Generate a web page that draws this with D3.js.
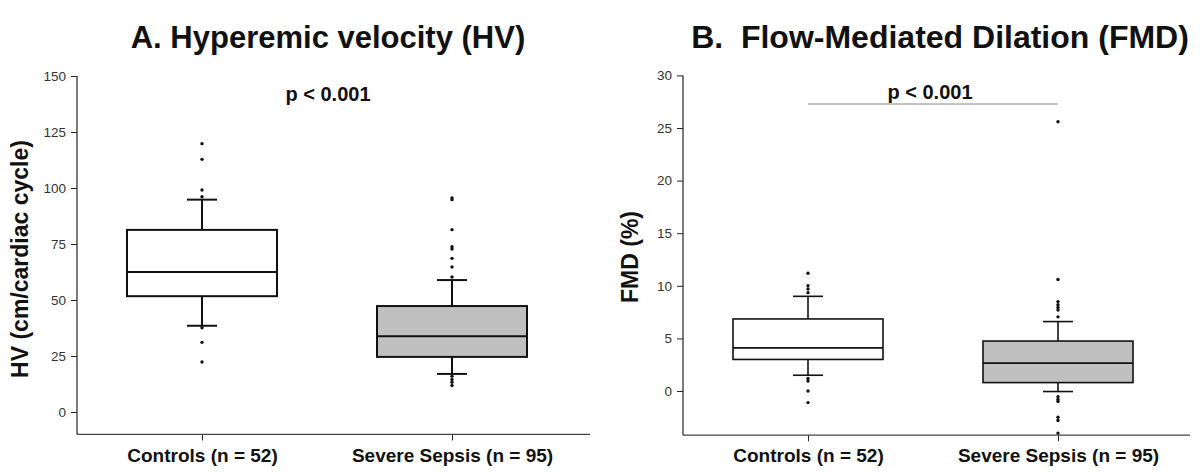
<!DOCTYPE html>
<html>
<head>
<meta charset="utf-8">
<script src="https://cdn.jsdelivr.net/npm/d3@7/dist/d3.min.js"></script>
<style>
  html, body { margin: 0; padding: 0; background: #fff; }
  svg { display: block; font-family: Arial, "Liberation Sans", sans-serif; }
</style>
</head>
<body>
<svg id="chart" width="1200" height="472"></svg>
<script>
// ---------- DATA ----------
const categories = ["Controls (n = 52)", "Severe Sepsis (n = 95)"];

// Panel A: Hyperemic velocity (cm/cardiac cycle)
const hvWhiskerLow  = [38.5, 17.0];
const hvQ1          = [51.7, 24.6];
const hvMedian      = [62.5, 33.8];
const hvQ3          = [81.3, 47.3];
const hvWhiskerHigh = [94.8, 58.9];
const hvOutliersControls = [119.8, 112.8, 99.1, 96.1, 37.6, 31.1, 22.3];
const hvOutliersSepsis   = [95.6, 94.8, 81.4, 73.8, 72.8, 68.6, 64.7, 60.3, 16.0, 14.5, 13.3, 11.8];
const hvTicks = [0, 25, 50, 75, 100, 125, 150];

// Panel B: Flow-mediated dilation (%)
const fmdWhiskerLow  = [1.5, -0.05];
const fmdQ1          = [3.0, 0.8];
const fmdMedian      = [4.1, 2.65];
const fmdQ3          = [6.85, 4.75];
const fmdWhiskerHigh = [9.0, 6.6];
const fmdOutliersControls = [11.2, 10.0, 9.7, 9.35, 1.2, 0.95, 0.0, -1.1];
const fmdOutliersSepsis   = [25.6, 10.6, 8.5, 8.2, 7.95, 7.7, 7.05, -0.55, -0.8, -1.0, -2.5, -2.8, -4.0];
const fmdTicks = [0, 5, 10, 15, 20, 25, 30];

const boxFills = ["#ffffff", "#c0c0c0"];
const pText = "p < 0.001";

// ---------- DRAW ----------
const svg = d3.select("#chart");

function buildStats(lo, q1, med, q3, hi, outs) {
  return categories.map((c, i) => ({
    cat: c, lo: lo[i], q1: q1[i], med: med[i], q3: q3[i], hi: hi[i], outliers: outs[i], fill: boxFills[i]
  }));
}

function panel(cfg) {
  const g = svg.append("g");
  const y = d3.scaleLinear().domain(cfg.yDomain).range([cfg.bottom, cfg.top]);
  const x = d3.scalePoint().domain(categories).range(cfg.xCenters);
  const step = x.step();
  const bw = step * 0.6;
  const cw = step * 0.088;
  const sw = cfg.strokeWidth;

  // Y axis
  const yAxis = d3.axisLeft(y).tickValues(cfg.ticks).tickSize(6).tickPadding(5).tickSizeOuter(0);
  const ya = g.append("g").attr("transform", `translate(${cfg.left},0)`).call(yAxis);
  ya.select(".domain").remove();
  ya.selectAll(".tick line").attr("stroke", "#222");
  ya.selectAll(".tick text").attr("font-size", 13.5).attr("fill", "#333")
    .attr("font-family", "Arial, 'Liberation Sans', sans-serif");
  g.append("line").attr("x1", cfg.left).attr("x2", cfg.left)
    .attr("y1", y(cfg.ticks[cfg.ticks.length - 1])).attr("y2", cfg.bottom)
    .attr("stroke", "#222").attr("stroke-width", 1.2);

  // X axis
  const xAxis = d3.axisBottom(x).tickSize(6).tickPadding(6).tickSizeOuter(0);
  const xa = g.append("g").attr("transform", `translate(0,${cfg.bottom})`).call(xAxis);
  xa.select(".domain").remove();
  xa.selectAll(".tick line").attr("stroke", "#222");
  xa.selectAll(".tick text").attr("font-size", 19).attr("font-weight", "bold").attr("fill", "#111")
    .attr("dy", "0.8em")
    .attr("font-family", "Arial, 'Liberation Sans', sans-serif");
  g.append("line").attr("x1", cfg.left).attr("x2", cfg.right)
    .attr("y1", cfg.bottom).attr("y2", cfg.bottom)
    .attr("stroke", "#444").attr("stroke-width", 1.2);

  // Boxes
  const stats = cfg.stats;
  const bg = g.selectAll("g.box").data(stats).join("g").attr("class", "box");
  // whiskers
  bg.append("line").attr("x1", d => x(d.cat)).attr("x2", d => x(d.cat))
    .attr("y1", d => y(d.hi)).attr("y2", d => y(d.q3)).attr("stroke", "#111").attr("stroke-width", sw);
  bg.append("line").attr("x1", d => x(d.cat)).attr("x2", d => x(d.cat))
    .attr("y1", d => y(d.q1)).attr("y2", d => y(d.lo)).attr("stroke", "#111").attr("stroke-width", sw);
  // caps
  bg.append("line").attr("x1", d => x(d.cat) - cw / 2 - 4).attr("x2", d => x(d.cat) + cw / 2 + 4)
    .attr("y1", d => y(d.hi)).attr("y2", d => y(d.hi)).attr("stroke", "#111").attr("stroke-width", sw);
  bg.append("line").attr("x1", d => x(d.cat) - cw / 2 - 4).attr("x2", d => x(d.cat) + cw / 2 + 4)
    .attr("y1", d => y(d.lo)).attr("y2", d => y(d.lo)).attr("stroke", "#111").attr("stroke-width", sw);
  // box
  bg.append("rect").attr("x", d => x(d.cat) - bw / 2).attr("width", bw)
    .attr("y", d => y(d.q3)).attr("height", d => y(d.q1) - y(d.q3))
    .attr("fill", d => d.fill).attr("stroke", "#111").attr("stroke-width", sw);
  // median
  bg.append("line").attr("x1", d => x(d.cat) - bw / 2).attr("x2", d => x(d.cat) + bw / 2)
    .attr("y1", d => y(d.med)).attr("y2", d => y(d.med)).attr("stroke", "#111").attr("stroke-width", sw);
  // outliers
  bg.each(function (d) {
    d3.select(this).selectAll("circle").data(d.outliers).join("circle")
      .attr("cx", x(d.cat)).attr("cy", v => y(v)).attr("r", 1.7).attr("fill", "#111");
  });

  // Title
  g.append("text").attr("x", cfg.titleX).attr("y", 48).attr("text-anchor", "middle")
    .attr("font-size", cfg.titleSize).attr("font-weight", "bold").attr("fill", "#111")
    .attr("xml:space", "preserve").text(cfg.title);

  // Y label
  g.append("text").attr("transform", `translate(${cfg.yLabelX},${cfg.yLabelY}) rotate(-90)`)
    .attr("text-anchor", "middle").attr("font-size", 23).attr("font-weight", "bold").attr("fill", "#111")
    .text(cfg.yLabel);

  // p value
  g.append("text").attr("x", cfg.pX).attr("y", cfg.pY).attr("text-anchor", "middle")
    .attr("font-size", 20).attr("font-weight", "bold").attr("fill", "#111").text(pText);
  if (cfg.pLine) {
    g.append("line").attr("x1", x(categories[0])).attr("x2", x(categories[1]))
      .attr("y1", cfg.pLineY).attr("y2", cfg.pLineY).attr("stroke", "#888").attr("stroke-width", 1.2);
  }
}

panel({
  stats: buildStats(hvWhiskerLow, hvQ1, hvMedian, hvQ3, hvWhiskerHigh, [hvOutliersControls, hvOutliersSepsis]),
  yDomain: [-10, 150], ticks: hvTicks, top: 76, bottom: 434.4,
  left: 77, right: 590, xCenters: [202, 452],
  strokeWidth: 2, title: "A. Hyperemic velocity (HV)", titleX: 328, titleSize: 31,
  yLabel: "HV (cm/cardiac cycle)", yLabelX: 28, yLabelY: 259,
  pX: 328, pY: 101, pLine: false
});

panel({
  stats: buildStats(fmdWhiskerLow, fmdQ1, fmdMedian, fmdQ3, fmdWhiskerHigh, [fmdOutliersControls, fmdOutliersSepsis]),
  yDomain: [-4.2, 30], ticks: fmdTicks, top: 75.4, bottom: 435.2,
  left: 683, right: 1190, xCenters: [808, 1058],
  strokeWidth: 1.6, title: "B.  Flow-Mediated Dilation (FMD)", titleX: 940, titleSize: 32,
  yLabel: "FMD (%)", yLabelX: 638, yLabelY: 257,
  pX: 930, pY: 99, pLine: true, pLineY: 104
});
</script>
</body>
</html>
